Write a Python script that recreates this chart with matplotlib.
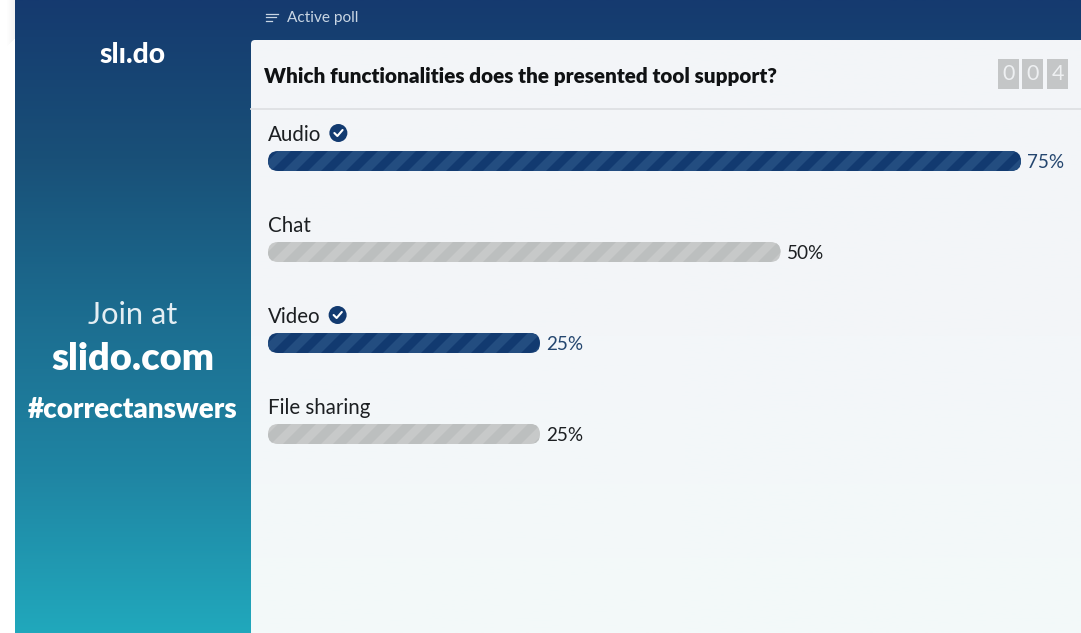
import numpy as np
import matplotlib
matplotlib.use('Agg')
import matplotlib.pyplot as plt
from matplotlib.colors import LinearSegmentedColormap
from matplotlib.patches import FancyBboxPatch, Polygon, Rectangle, Circle

plt.rcParams['font.family'] = ['Lato', 'DejaVu Sans']

# Poll results
options = ['Audio', 'Chat', 'Video', 'File sharing']
votes = [75, 50, 25, 25]
correct = [True, False, True, False]
question = 'Which functionalities does the presented tool support?'
counter = ['0', '0', '4']

W, H = 1081, 633
NAVY = '#123a70'
NAVY_LIGHT = '#234d80'
GREY = '#c7c9c9'
GREY_LIGHT = '#bcbfbf'
INK = '#1c1f22'

fig = plt.figure(figsize=(W / 100, H / 100), dpi=100, facecolor='white')

# Page layer, in pixels from the top left
bg = fig.add_axes([0, 0, 1, 1])
bg.set_xlim(0, W)
bg.set_ylim(H, 0)
bg.axis('off')

# Soft shadow along the left edge of the header
for i in range(8):
    bg.add_patch(Rectangle((7 + i, 0), 1, 46 - i, fc='#808080', alpha=0.012 + 0.012 * i, lw=0))

band = LinearSegmentedColormap.from_list('band', ['#153a6f', '#195078', '#1c6d90', '#1f85a3', '#21a8bc'])
grad = np.linspace(0, 1, 256).reshape(-1, 1)
bg.imshow(grad, cmap=band, extent=(15, W, H, 0), aspect='auto', zorder=1)
bg.set_xlim(0, W)
bg.set_ylim(H, 0)

# Content panel with its rounded top corner
tint = LinearSegmentedColormap.from_list('tint', ['#f3f5f8', '#f3f6f9', '#f3fafa'])
panel = FancyBboxPatch((251, 40), 840, 620, boxstyle='round,pad=0,rounding_size=4',
                       fc='none', ec='none', zorder=2)
bg.add_patch(panel)
im = bg.imshow(grad, cmap=tint, extent=(251, W, H, 40), aspect='auto', zorder=2)
im.set_clip_path(panel)
bg.set_xlim(0, W)
bg.set_ylim(H, 0)
bg.plot([251, W], [108.5, 108.5], color='#dfe1e4', lw=1.3, zorder=3)

# Sidebar text
bg.text(133, 55, 'sl\u0131.do', color='white', fontsize=20.3, fontweight='black',
        ha='center', va='center', zorder=4)
bg.text(132.5, 314.5, 'Join at', color='#e4eef3', fontsize=22.2, ha='center', va='center', zorder=4)
bg.text(132.5, 359.5, 'slido.com', color='white', fontsize=27.4, fontweight='heavy',
        ha='center', va='center', zorder=4)
bg.text(132.5, 409.5, '#correctanswers', color='white', fontsize=20, fontweight='heavy',
        ha='center', va='center', zorder=4)

# Header strip
for y, x1 in zip([13.5, 17, 20.5], [278, 276, 272]):
    bg.plot([266, x1], [y, y], color='#c9d6e4', lw=0.9, zorder=4)
bg.text(287, 18, 'Active poll', color='#c9d6e4', fontsize=11.1, ha='left', va='center', zorder=4)

bg.text(264, 76, question, color='#101214', fontsize=14.9, fontweight='heavy',
        ha='left', va='center', zorder=4)

# Participant counter
for digit, x in zip(counter, [998, 1022, 1047]):
    bg.add_patch(Rectangle((x, 59), 21, 30, fc='#c4c6c7', lw=0, zorder=4))
    bg.text(x + 10.5, 74.5, digit, color='#eef0f2', fontsize=15.5, ha='center', va='center', zorder=5)

# Results layer: x in percent, y in rows
PX_PER_PCT = 9.62
PX_PER_ROW = 91.0
X0_PX, ROW0_PX = 283.75, 161.0
ax = fig.add_axes([251 / W, 0, (W - 251) / W, 1 - 108 / H])
ax.patch.set_alpha(0)
ax.set_xlim((251 - X0_PX) / PX_PER_PCT, (W - X0_PX) / PX_PER_PCT)
ax.set_ylim((H - ROW0_PX) / PX_PER_ROW, (108 - ROW0_PX) / PX_PER_ROW)
ax.axis('off')

dx = 1 / PX_PER_PCT
dy = 1 / PX_PER_ROW
half_h = 10 * dy
pad = 15.75 * dx

for row, (name, v, ok) in enumerate(zip(options, votes, correct)):
    base, light = (NAVY, NAVY_LIGHT) if ok else (GREY, GREY_LIGHT)
    bar = FancyBboxPatch((-pad, row - half_h), v + 2 * pad, 2 * half_h,
                         boxstyle=f'round,pad=0,rounding_size={10 * dx}',
                         mutation_aspect=dy / dx, fc=base, ec='none', zorder=2)
    ax.add_patch(bar)

    # Diagonal stripes, clipped to the rounded bar
    start = -pad - 10 * dx
    while start < v + pad:
        stripe = Polygon([(start, row + half_h), (start + 13 * dx, row + half_h),
                          (start + 33 * dx, row - half_h), (start + 20 * dx, row - half_h)],
                         closed=True, fc=light, ec='none', zorder=3)
        ax.add_patch(stripe)
        stripe.set_clip_path(bar)
        start += 25 * dx

    ax.annotate(f'{v}%', xy=(v + pad, row), xytext=(4.5, -1.2), textcoords='offset points',
                color='#24466f' if ok else INK, fontsize=13.6, ha='left', va='center')

    label = ax.annotate(name, xy=(-pad, row), xytext=(0, 19), textcoords='offset points',
                        color=INK, fontsize=14.8, ha='left', va='center')
    if ok:
        # Tick badge just after the option name
        fig.canvas.draw()
        box = label.get_window_extent()
        cx = box.x1 + 17
        cy = H - (ROW0_PX + PX_PER_ROW * row - 28)
        cx, cy = bg.transData.inverted().transform((cx, cy))
        bg.add_patch(Circle((cx, cy), 9, fc=NAVY, ec='none', zorder=5))
        bg.plot([cx - 4, cx - 1, cx + 4.2], [cy, cy + 3, cy - 3], color='white', lw=1.5,
                solid_capstyle='round', solid_joinstyle='round', zorder=6)

fig.savefig('out.png', dpi=100, facecolor=fig.get_facecolor())
